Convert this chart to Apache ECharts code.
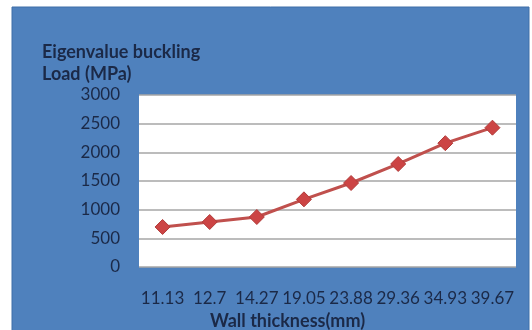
<!DOCTYPE html>
<html>
<head>
<meta charset="utf-8">
<style>
  html, body { margin: 0; padding: 0; background: #ffffff; }
  #chart { width: 532px; height: 330px; }
</style>
<script src="https://cdn.jsdelivr.net/npm/echarts@6/dist/echarts.min.js"></script>
</head>
<body>
<div id="chart"></div>
<script>
// Wall thickness categories (mm)
const thickness = ['11.13', '12.7', '14.27', '19.05', '23.88', '29.36', '34.93', '39.67'];
// Eigenvalue buckling load (MPa)
const bucklingLoad = [698, 785, 872, 1180, 1465, 1797, 2160, 2430];
// Value axis ticks
const yMin = 0, yMax = 3000, yStep = 500;

const ink = '#1b2947';
const chart = echarts.init(document.getElementById('chart'));
chart.setOption({
  animation: false,
  graphic: [{
    type: 'rect',
    z: -10,
    shape: { x: 12, y: 7, width: 517, height: 330 },
    style: { fill: '#4f81bd', stroke: '#3f6ea8', lineWidth: 1 }
  }],
  title: {
    text: 'Eigenvalue buckling\nLoad (MPa)',
    left: 37, top: 36,
    textStyle: { fontFamily: 'Lato', fontWeight: 'bold', fontSize: 18, color: ink, lineHeight: 22 }
  },
  grid: {
    left: 139, right: 16, top: 95, bottom: 63,
    containLabel: false,
    outerBoundsMode: 'none',
    show: true, backgroundColor: '#ffffff', borderWidth: 0
  },
  xAxis: {
    type: 'category',
    data: thickness,
    boundaryGap: true,
    axisLine: { show: false },
    axisTick: { show: false },
    axisLabel: { fontFamily: 'Lato', fontSize: 17, color: ink, margin: 23, interval: 0 },
    name: 'Wall thickness(mm)',
    nameLocation: 'middle',
    nameGap: 41,
    nameTextStyle: { fontFamily: 'Lato', fontWeight: 'bold', fontSize: 18, color: ink, padding: [0, 80, 0, 0] }
  },
  yAxis: {
    type: 'value',
    min: yMin, max: yMax, interval: yStep,
    axisLine: { show: false },
    axisTick: { show: false },
    axisLabel: { fontFamily: 'Lato', fontSize: 17, color: ink, margin: 19, formatter: v => String(v) },
    splitLine: { lineStyle: { color: '#a6a6a6', width: 1.5 } }
  },
  series: [{
    type: 'line',
    data: bucklingLoad,
    symbol: 'diamond',
    symbolSize: 15,
    lineStyle: { color: '#c0504d', width: 3 },
    itemStyle: { color: '#cc4444', borderColor: '#b23c3a', borderWidth: 1 }
  }]
});
</script>
</body>
</html>
